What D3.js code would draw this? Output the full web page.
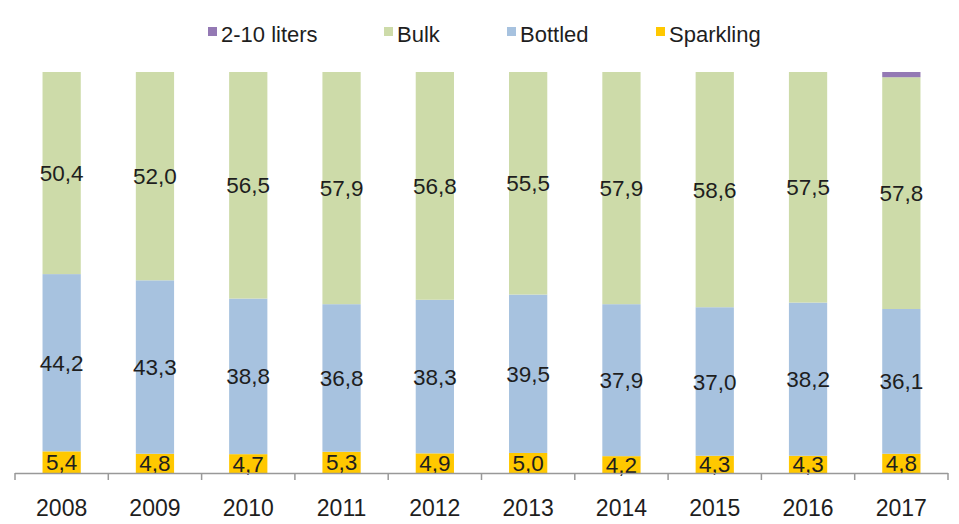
<!DOCTYPE html>
<html lang="en">
<head>
<meta charset="UTF-8">
<title>Stacked share chart</title>
<script src="https://d3js.org/d3.v7.min.js"></script>
<style>
    body { margin: 0; background: #fff; }
    text { font-family: "Liberation Sans", Arial, sans-serif; fill: #1e1e1e; }
</style>
</head>
<body>
<div id="chart"></div>
<script>
    const width = 959;
    const height = 524;

    const years = ["2008", "2009", "2010", "2011", "2012", "2013", "2014", "2015", "2016", "2017"];
    const sparkling = [5.4, 4.8, 4.7, 5.3, 4.9, 5.0, 4.2, 4.3, 4.3, 4.8];
    const bottled = [44.2, 43.3, 38.8, 36.8, 38.3, 39.5, 37.9, 37.0, 38.2, 36.1];
    const bulk = [50.4, 52.0, 56.5, 57.9, 56.8, 55.5, 57.9, 58.6, 57.5, 57.8];
    const liters = [0, 0, 0, 0, 0, 0, 0, 0, 0, 1.3];

    const seriesNames = ["Sparkling", "Bottled", "Bulk", "2-10 liters"];
    const seriesColors = ["#ffc800", "#a7c2df", "#cddba9", "#9479b4"];
    const legendOrder = ["2-10 liters", "Bulk", "Bottled", "Sparkling"];

    const rows = years.map((y, i) => ({
        year: y,
        "Sparkling": sparkling[i],
        "Bottled": bottled[i],
        "Bulk": bulk[i],
        "2-10 liters": liters[i]
    }));

    const svg = d3.select("#chart").append("svg")
        .attr("width", width)
        .attr("height", height);

    const x = d3.scaleBand().domain(years).range([15, 948])
        .paddingInner(0.59).paddingOuter(0.295);
    const y = d3.scaleLinear().domain([0, 1]).range([473, 72]);
    const color = d3.scaleOrdinal().domain(seriesNames).range(seriesColors);

    // shares are rounded, so normalise each bar to 100%
    const stacked = d3.stack().keys(seriesNames).offset(d3.stackOffsetExpand)(rows);

    const layers = svg.selectAll(".layer")
        .data(stacked)
        .enter().append("g")
        .attr("class", "layer")
        .attr("fill", d => color(d.key));

    layers.selectAll("rect")
        .data(d => d)
        .enter().append("rect")
        .attr("x", d => x(d.data.year))
        .attr("y", d => y(d[1]))
        .attr("width", x.bandwidth())
        .attr("height", d => y(d[0]) - y(d[1]));

    // value labels (the tiny 2-10 liters slice has none)
    stacked.filter(s => s.key !== "2-10 liters").forEach(s => {
        svg.append("g").selectAll("text")
            .data(s)
            .enter().append("text")
            .attr("x", d => x(d.data.year) + x.bandwidth() / 2)
            .attr("y", d => (y(d[0]) + y(d[1])) / 2)
            .attr("dy", "0.36em")
            .attr("text-anchor", "middle")
            .style("font-size", "22.5px")
            .text(d => d3.format(".1f")(d.data[s.key]).replace(".", ","));
    });

    // x axis with ticks between the bars
    const axis = svg.append("g").attr("class", "axis");
    axis.append("line")
        .attr("x1", 15).attr("x2", 948)
        .attr("y1", 473.5).attr("y2", 473.5)
        .attr("stroke", "#999").attr("stroke-width", 1.5);
    const edges = years.map(yr => x(yr) - x.step() * x.paddingOuter()).concat([948]);
    axis.selectAll(".tick")
        .data(edges)
        .enter().append("line")
        .attr("x1", d => d).attr("x2", d => d)
        .attr("y1", 473).attr("y2", 480)
        .attr("stroke", "#999").attr("stroke-width", 1.5);
    axis.selectAll(".label")
        .data(years)
        .enter().append("text")
        .attr("x", d => x(d) + x.bandwidth() / 2)
        .attr("y", 516)
        .attr("text-anchor", "middle")
        .style("font-size", "23px")
        .text(d => d);

    // legend
    const legendX = [208, 384, 507, 656];
    const legend = svg.append("g").selectAll("g")
        .data(legendOrder)
        .enter().append("g")
        .attr("transform", (d, i) => `translate(${legendX[i]},0)`);
    legend.append("rect")
        .attr("x", 0).attr("y", 27)
        .attr("width", 9).attr("height", 9)
        .attr("fill", d => color(d));
    legend.append("text")
        .attr("x", 13).attr("y", 42)
        .style("font-size", "22px")
        .text(d => d);
</script>
</body>
</html>
